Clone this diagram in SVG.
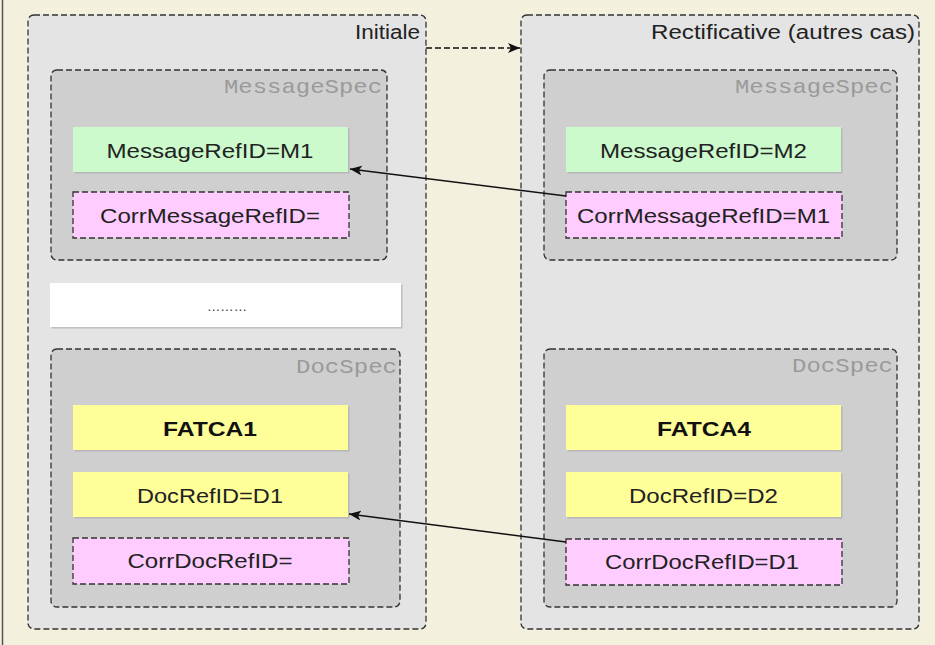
<svg xmlns="http://www.w3.org/2000/svg" width="935" height="645" viewBox="0 0 935 645">
<defs>
<style>
.bg{fill:#F3F0DE}
.outer{fill:#E4E4E4;stroke:#333;stroke-width:1.3;stroke-dasharray:6,3}
.band{fill:#EDEDED}
.inner{fill:#CFCFCF;stroke:#333;stroke-width:1.3;stroke-dasharray:6,3}
.shadow{fill:#A8A8A8;opacity:0.6}
.green{fill:#CCFACC}
.yellow{fill:#FFFF99}
.white{fill:#FFFFFF}
.pink{fill:#FFCCFF;stroke:#333;stroke-width:1.3;stroke-dasharray:6,3}
.t{font-family:"Liberation Sans",Arial,sans-serif;font-size:20.5px;fill:#222;text-anchor:middle}
.b{font-weight:bold;fill:#111}
.title{font-family:"Liberation Sans",Arial,sans-serif;font-size:19.5px;fill:#222;text-anchor:end}
.mono{font-family:"Liberation Mono","Courier New",monospace;font-size:21px;fill:#9A9A9A;text-anchor:end}
.link{fill:none;stroke:#111;stroke-width:1.3}
.dlink{fill:none;stroke:#111;stroke-width:1.3;stroke-dasharray:6,3}
</style>
<marker id="arrow" viewBox="0 0 12 10" refX="12" refY="5" markerWidth="12" markerHeight="10" markerUnits="userSpaceOnUse" orient="auto">
<path d="M0,0 L12,5 L0,10 L3,5 Z" fill="#111"/>
</marker>
</defs>
<rect class="bg" x="0" y="0" width="935" height="645"/>
<line x1="2.5" y1="0" x2="2.5" y2="645" stroke="#555" stroke-width="1.5"/>

<g id="initiale">
<rect x="28" y="15" width="398" height="614" rx="6" fill="#E4E4E4"/>
<path d="M28,48 V21 a6,6 0 0 1 6,-6 H420 a6,6 0 0 1 6,6 V48 Z" class="band"/>
<rect class="outer" x="28" y="15" width="398" height="614" rx="6" fill="none"/>
<text class="title" x="420" y="39" textLength="65" lengthAdjust="spacingAndGlyphs">Initiale</text>
</g>

<g id="rectificative">
<rect x="521" y="15" width="398" height="614" rx="6" fill="#E4E4E4"/>
<path d="M521,48 V21 a6,6 0 0 1 6,-6 H913 a6,6 0 0 1 6,6 V48 Z" class="band"/>
<rect class="outer" x="521" y="15" width="398" height="614" rx="6" fill="none"/>
<text class="title" x="915" y="39" textLength="264" lengthAdjust="spacingAndGlyphs">Rectificative (autres cas)</text>
</g>

<g id="messagespec-left">
<rect x="51" y="70" width="336" height="190" rx="6" fill="#CFCFCF"/>
<path d="M51,104 V76 a6,6 0 0 1 6,-6 H381 a6,6 0 0 1 6,6 V104 Z" class="band"/>
<rect class="inner" x="51" y="70" width="336" height="190" rx="6" fill="none"/>
<text class="mono" x="382" y="93" textLength="158" lengthAdjust="spacingAndGlyphs">MessageSpec</text>
</g>

<g id="messagespec-right">
<rect x="544" y="70" width="353" height="190" rx="6" fill="#CFCFCF"/>
<path d="M544,104 V76 a6,6 0 0 1 6,-6 H891 a6,6 0 0 1 6,6 V104 Z" class="band"/>
<rect class="inner" x="544" y="70" width="353" height="190" rx="6" fill="none"/>
<text class="mono" x="893" y="93" textLength="158" lengthAdjust="spacingAndGlyphs">MessageSpec</text>
</g>

<g id="ellipsis">
<rect class="shadow" x="51.5" y="284.5" width="351" height="44"/>
<rect class="white" x="50" y="283" width="351" height="44"/>
<text x="227" y="311" font-family="'Liberation Sans',Arial,sans-serif" font-size="12" fill="#333" text-anchor="middle" textLength="40" lengthAdjust="spacingAndGlyphs">………</text>
</g>

<g id="docspec-left">
<rect x="51" y="349" width="349" height="258" rx="6" fill="#CFCFCF"/>
<path d="M51,382 V355 a6,6 0 0 1 6,-6 H394 a6,6 0 0 1 6,6 V382 Z" class="band"/>
<rect class="inner" x="51" y="349" width="349" height="258" rx="6" fill="none"/>
<text class="mono" x="397" y="373" textLength="101" lengthAdjust="spacingAndGlyphs">DocSpec</text>
</g>

<g id="docspec-right">
<rect x="544" y="349" width="353" height="258" rx="6" fill="#CFCFCF"/>
<path d="M544,382 V355 a6,6 0 0 1 6,-6 H891 a6,6 0 0 1 6,6 V382 Z" class="band"/>
<rect class="inner" x="544" y="349" width="353" height="258" rx="6" fill="none"/>
<text class="mono" x="893" y="372" textLength="101" lengthAdjust="spacingAndGlyphs">DocSpec</text>
</g>

<g id="msgref-m1">
<rect class="shadow" x="74.5" y="128.5" width="275" height="45"/>
<rect class="green" x="73" y="127" width="275" height="45"/>
<text class="t" x="210" y="158" textLength="207" lengthAdjust="spacingAndGlyphs">MessageRefID=M1</text>
</g>
<g id="corrmsgref-empty">
<rect class="pink" x="73" y="192" width="276" height="46"/>
<text class="t" x="210" y="223" textLength="220" lengthAdjust="spacingAndGlyphs">CorrMessageRefID=</text>
</g>
<g id="msgref-m2">
<rect class="shadow" x="567.5" y="128.5" width="275" height="45"/>
<rect class="green" x="566" y="127" width="275" height="45"/>
<text class="t" x="703.5" y="158" textLength="207" lengthAdjust="spacingAndGlyphs">MessageRefID=M2</text>
</g>
<g id="corrmsgref-m1">
<rect class="pink" x="566" y="192" width="276" height="46"/>
<text class="t" x="703.5" y="223" textLength="253" lengthAdjust="spacingAndGlyphs">CorrMessageRefID=M1</text>
</g>

<g id="fatca1">
<rect class="shadow" x="74.5" y="406.5" width="275" height="45"/>
<rect class="yellow" x="73" y="405" width="275" height="45"/>
<text class="t b" x="210" y="436" textLength="94" lengthAdjust="spacingAndGlyphs">FATCA1</text>
</g>
<g id="docref-d1">
<rect class="shadow" x="74.5" y="473.5" width="275" height="45"/>
<rect class="yellow" x="73" y="472" width="275" height="45"/>
<text class="t" x="210" y="503" textLength="146" lengthAdjust="spacingAndGlyphs">DocRefID=D1</text>
</g>
<g id="corrdocref-empty">
<rect class="pink" x="73" y="538" width="276" height="46"/>
<text class="t" x="210" y="568" textLength="165" lengthAdjust="spacingAndGlyphs">CorrDocRefID=</text>
</g>
<g id="fatca4">
<rect class="shadow" x="567.5" y="406.5" width="275" height="45"/>
<rect class="yellow" x="566" y="405" width="275" height="45"/>
<text class="t b" x="704" y="436" textLength="94" lengthAdjust="spacingAndGlyphs">FATCA4</text>
</g>
<g id="docref-d2">
<rect class="shadow" x="567.5" y="473.5" width="275" height="45"/>
<rect class="yellow" x="566" y="472" width="275" height="45"/>
<text class="t" x="703.5" y="503" textLength="149" lengthAdjust="spacingAndGlyphs">DocRefID=D2</text>
</g>
<g id="corrdocref-d1">
<rect class="pink" x="566" y="539" width="276" height="46"/>
<text class="t" x="702" y="569" textLength="194" lengthAdjust="spacingAndGlyphs">CorrDocRefID=D1</text>
</g>

<g id="connectors">
<line class="dlink" x1="426" y1="48" x2="520" y2="48" marker-end="url(#arrow)"/>
<line class="link" x1="566" y1="196" x2="350" y2="169" marker-end="url(#arrow)"/>
<line class="link" x1="566" y1="542" x2="349" y2="514" marker-end="url(#arrow)"/>
</g>
</svg>
